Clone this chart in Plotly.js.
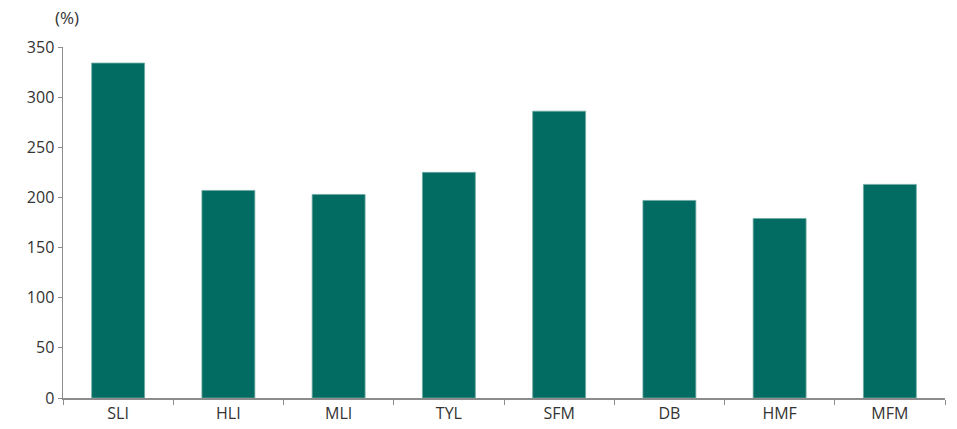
<!DOCTYPE html>
<html>
<head>
<meta charset="utf-8">
<script src="https://cdn.plot.ly/plotly-3.0.1.min.js"></script>
<style>html,body{margin:0;padding:0;background:#fff;}#chart{width:957px;height:429px;}</style>
</head>
<body>
<div id="chart"></div>
<script>
const categories = ["SLI", "HLI", "MLI", "TYL", "SFM", "DB", "HMF", "MFM"];
const values = [334, 207, 203, 225, 286, 197, 179, 213];
const yTicks = [0, 50, 100, 150, 200, 250, 300, 350];
const unitLabel = "(%)";

const trace = {
  type: "bar",
  x: categories,
  y: values,
  marker: { color: "#026C62", line: { color: "#6FAAA3", width: 0.8 } },
  hoverinfo: "x+y"
};

const layout = {
  width: 957,
  height: 429,
  margin: { l: 63, r: 12, t: 47, b: 31 },
  paper_bgcolor: "#fff",
  plot_bgcolor: "#fff",
  font: { family: "Open Sans, Noto Sans, sans-serif", size: 16, color: "#333" },
  bargap: 0.52,
  showlegend: false,
  xaxis: {
    showline: true, linecolor: "#8c8c8c", linewidth: 1.5,
    ticks: "outside", tickson: "boundaries", ticklen: 5, tickcolor: "#8c8c8c",
    showgrid: false, zeroline: false,
    tickfont: { size: 16, color: "#333" }
  },
  yaxis: {
    range: [0, 350], tickvals: yTicks, ticktext: yTicks.map(String),
    showline: true, linecolor: "#8c8c8c", linewidth: 1.5,
    ticks: "outside", ticklen: 4, tickcolor: "#8c8c8c",
    showgrid: false, zeroline: false,
    tickfont: { size: 16, color: "#333" }
  },
  annotations: [{
    text: unitLabel, xref: "paper", yref: "paper",
    x: -0.0113, y: 1.085, xanchor: "left", yanchor: "middle",
    showarrow: false, font: { size: 17, color: "#333" }
  }]
};

Plotly.newPlot("chart", [trace], layout, { displayModeBar: false, staticPlot: true });
</script>
</body>
</html>
